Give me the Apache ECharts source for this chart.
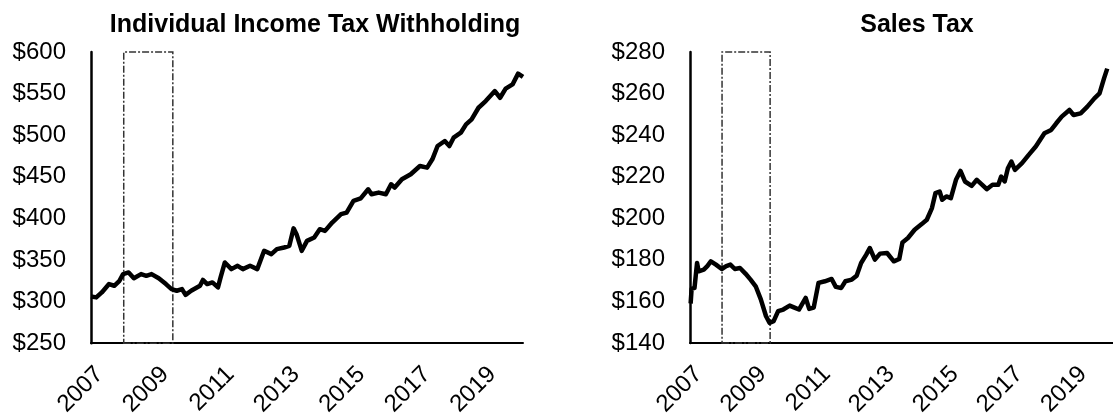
<!DOCTYPE html>
<html>
<head>
<meta charset="utf-8">
<script src="https://cdn.jsdelivr.net/npm/echarts@6/dist/echarts.min.js"></script>
<style>
  html, body { margin: 0; padding: 0; background: #fff; }
  #chart { width: 1113px; height: 419px; }
</style>
</head>
<body>
<div id="chart"></div>
<script>
// values in $ millions
var incomeYears = [2007.0, 2007.16, 2007.33, 2007.55, 2007.71, 2007.87, 2007.98, 2008.15, 2008.31, 2008.53,
    2008.69, 2008.85, 2009.07, 2009.29, 2009.46, 2009.62, 2009.78, 2009.89, 2010.06, 2010.33,
    2010.42, 2010.55, 2010.71, 2010.88, 2010.96, 2011.09, 2011.29, 2011.48, 2011.64, 2011.86,
    2012.08, 2012.29, 2012.51, 2012.68, 2012.9, 2013.06, 2013.19, 2013.28, 2013.44, 2013.6,
    2013.82, 2013.99, 2014.15, 2014.37, 2014.64, 2014.81, 2015.02, 2015.24, 2015.47, 2015.57,
    2015.79, 2016.01, 2016.17, 2016.28, 2016.5, 2016.77, 2017.05, 2017.27, 2017.43, 2017.59,
    2017.81, 2017.95, 2018.08, 2018.3, 2018.46, 2018.63, 2018.84, 2019.06, 2019.34, 2019.5,
    2019.67, 2019.88, 2020.05, 2020.2];
var incomeValues = [306, 305, 311, 321, 319, 325, 333, 335, 328, 333,
    331, 333, 328, 321, 315, 313, 315, 308, 313, 319,
    326, 321, 323, 317, 329, 347, 339, 343, 339, 343,
    339, 361, 357, 363, 365, 367, 388, 381, 361, 373,
    377, 387, 385, 395, 405, 407, 421, 424, 435, 429,
    431, 429, 441, 437, 447, 453, 463, 461, 471, 487,
    493, 487, 497, 503, 513, 519, 533, 541, 553, 545,
    556, 561, 574, 570];

var salesYears = [2007.02, 2007.05, 2007.14, 2007.22, 2007.27, 2007.43, 2007.54, 2007.65, 2007.81, 2007.99,
    2008.13, 2008.26, 2008.4, 2008.56, 2008.73, 2008.89, 2009.05, 2009.21, 2009.37, 2009.48,
    2009.61, 2009.75, 2009.91, 2010.11, 2010.26, 2010.4, 2010.61, 2010.72, 2010.86, 2011.01,
    2011.21, 2011.42, 2011.55, 2011.72, 2011.85, 2012.05, 2012.2, 2012.34, 2012.5, 2012.61,
    2012.77, 2012.93, 2013.15, 2013.36, 2013.53, 2013.63, 2013.8, 2014.01, 2014.23, 2014.39,
    2014.55, 2014.66, 2014.79, 2014.87, 2015.0, 2015.14, 2015.3, 2015.44, 2015.58, 2015.79,
    2015.95, 2016.12, 2016.26, 2016.44, 2016.62, 2016.71, 2016.82, 2016.92, 2017.03, 2017.14,
    2017.36, 2017.57, 2017.79, 2018.06, 2018.27, 2018.43, 2018.6, 2018.84, 2018.97, 2019.19,
    2019.4, 2019.62, 2019.78, 2019.92, 2020.02];
var salesValues = [159, 166, 166.5, 178.5, 174.5, 175.3, 177, 179.3, 177.7, 175.6,
    177, 177.7, 175.6, 176.1, 173.4, 170.5, 167.3, 161, 153, 149.7,
    150.5, 155.3, 156.1, 158, 157, 156.1, 161.7, 156.4, 157, 168.9,
    169.7, 170.8, 167, 166.5, 169.7, 170.5, 172.4, 178.5, 182.5, 185.7,
    180.1, 183, 183.3, 179.3, 180.4, 188.4, 190.5, 194.5, 197.2, 199.3,
    204.9, 212.1, 212.9, 208.9, 210.5, 209.7, 218.5, 222.8, 217.7, 215.6,
    218.5, 216.1, 214, 216.1, 216.1, 220.1, 217.7, 224.1, 227.3, 223.3,
    226.5, 230.5, 234.5, 240.9, 242.5, 245.7, 248.9, 252.1, 249.7, 250.5,
    253.7, 257.7, 260.1, 267.3, 272];

var xTicks = [2007, 2009, 2011, 2013, 2015, 2017, 2019];
var recession = [2008, 2009.5];
var incomeAxis = [250, 600, 50];
var salesAxis = [140, 280, 20];

function pairs(xs, ys) {
    return xs.map(function (x, i) { return [x, ys[i]]; });
}

var font = "'Liberation Sans', Arial, sans-serif";

function xAxisFor(idx) {
    return {
        type: 'value',
        gridIndex: idx,
        min: xTicks[0],
        max: 2020.2,
        interval: 2,
        axisLine: { show: true, lineStyle: { color: '#000', width: 2 } },
        axisTick: { show: false },
        splitLine: { show: false },
        axisLabel: {
            rotate: 45,
            margin: 19,
            verticalAlign: 'top',
            color: '#000',
            fontFamily: font,
            fontSize: 24,
            showMaxLabel: false,
            formatter: function (v) { return xTicks.indexOf(v) >= 0 ? String(v) : ''; }
        }
    };
}

function yAxisFor(idx, ax) {
    return {
        type: 'value',
        gridIndex: idx,
        min: ax[0],
        max: ax[1],
        interval: ax[2],
        axisLine: { show: true, lineStyle: { color: '#000', width: 2.5 } },
        axisTick: { show: false },
        splitLine: { show: false },
        axisLabel: {
            margin: 25,
            color: '#000',
            fontFamily: font,
            fontSize: 24,
            formatter: function (v) { return '$' + v; }
        }
    };
}

function lineFor(idx, data) {
    return {
        type: 'line',
        xAxisIndex: idx,
        yAxisIndex: idx,
        data: data,
        showSymbol: false,
        animation: false,
        lineStyle: { color: '#000', width: 4.5, join: 'round' },
        markArea: {
            silent: true,
            itemStyle: {
                color: 'rgba(0,0,0,0)',
                borderColor: '#333',
                borderWidth: 1.5,
                borderType: [7, 2, 2, 2]
            },
            data: [[{ xAxis: recession[0] }, { xAxis: recession[1] }]]
        }
    };
}

var chart = echarts.init(document.getElementById('chart'), null, { renderer: 'canvas' });
chart.setOption({
    animation: false,
    backgroundColor: '#fff',
    title: [{
        text: 'Individual Income Tax Withholding',
        left: 310, top: 8, textAlign: 'center',
        textStyle: { fontFamily: font, fontSize: 25, fontWeight: 'bold', color: '#000' }
    }, {
        text: 'Sales Tax',
        left: 912, top: 8, textAlign: 'center',
        textStyle: { fontFamily: font, fontSize: 25, fontWeight: 'bold', color: '#000' }
    }],
    grid: [
        { left: 91, top: 52, width: 432, height: 293 },
        { left: 690, top: 52, width: 432, height: 291 }
    ],
    xAxis: [xAxisFor(0), xAxisFor(1)],
    yAxis: [yAxisFor(0, incomeAxis), yAxisFor(1, salesAxis)],
    series: [
        lineFor(0, pairs(incomeYears, incomeValues)),
        lineFor(1, pairs(salesYears, salesValues))
    ]
});
</script>
</body>
</html>
